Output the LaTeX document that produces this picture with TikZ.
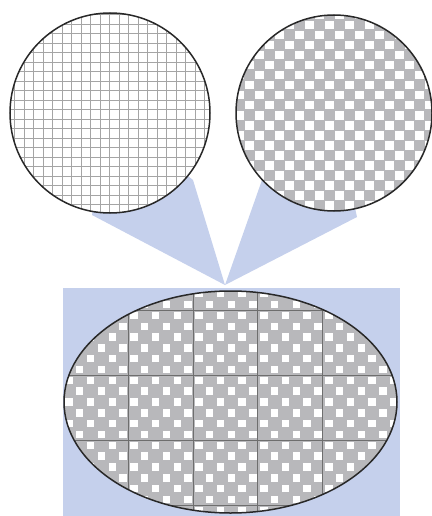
\documentclass[tikz,border=0pt]{standalone}
\usepackage{tikz}
\definecolor{zoomblue}{RGB}{197,208,236}
\definecolor{checkgray}{RGB}{184,184,187}
\definecolor{gridgray}{RGB}{165,165,165}
\definecolor{cellline}{RGB}{110,110,110}
\definecolor{rimblack}{RGB}{40,40,40}
\tikzset{
  rim/.style={draw=rimblack, line width=1.5pt},
  fineline/.style={draw=gridgray, line width=0.8pt},
  coarseline/.style={draw=cellline, line width=1pt}
}

\begin{document}
\begin{tikzpicture}[x=1pt, y=-1pt]
  \useasboundingbox (0,0) rectangle (431,516);
  \coordinate (apex) at (225,285);
  \coordinate (lc) at (110,113);
  \coordinate (rc) at (334,113);
  \coordinate (ec) at (230.5,402);

  % Magnifier cones
  \fill[zoomblue] (apex) -- (92,215) -- (lc) -- (193,180) -- cycle;
  \fill[zoomblue] (apex) -- (262,180) -- (rc) -- (357,217) -- cycle;

  % Sample backdrop
  \fill[zoomblue] (63,288) rectangle (400,516);

  % Left circle: fine grid
  \begin{scope}
    \clip (lc) circle [radius=100];
    \fill[white] (lc) circle [radius=100];
    \foreach \k in {0,...,22} {
      \draw[fineline] ({5+9.5*\k},0) -- ++(0,230);
      \draw[fineline] (0,{5+9.5*\k}) -- ++(230,0);
    }
  \end{scope}
  \draw[rim] (lc) circle [radius=100];

  % Right circle: checkerboard
  \begin{scope}
    \clip (rc) circle [radius=98];
    \fill[checkgray] (rc) circle [radius=98];
    \foreach \i in {0,...,19}
      \foreach \j in {0,...,10}
        \fill[white] ({235+10*\i},{11+10*(2*\j+mod(\i,2))}) rectangle ++(8.5,8.5);
  \end{scope}
  \draw[rim] (rc) circle [radius=98];

  % Ellipse: checkerboard with coarse cells
  \begin{scope}
    \clip (ec) ellipse [x radius=166.5, y radius=111];
    \fill[checkgray] (ec) ellipse [x radius=166.5, y radius=111];
    \foreach \i in {0,...,31}
      \foreach \j in {2,...,12}
        \fill[white] ({65.2+10.83*\i},{246.7+10.83*(2*\j+mod(\i,2))}) rectangle ++(7.4,7.4);
    \foreach \k in {1,...,4} {
      \draw[coarseline] ({63.5+64.75*\k},280) -- ++(0,240);
      \draw[coarseline] (60,{245+65*\k}) -- ++(345,0);
    }
  \end{scope}
  \draw[rim] (ec) ellipse [x radius=166.5, y radius=111];
\end{tikzpicture}
\end{document}
